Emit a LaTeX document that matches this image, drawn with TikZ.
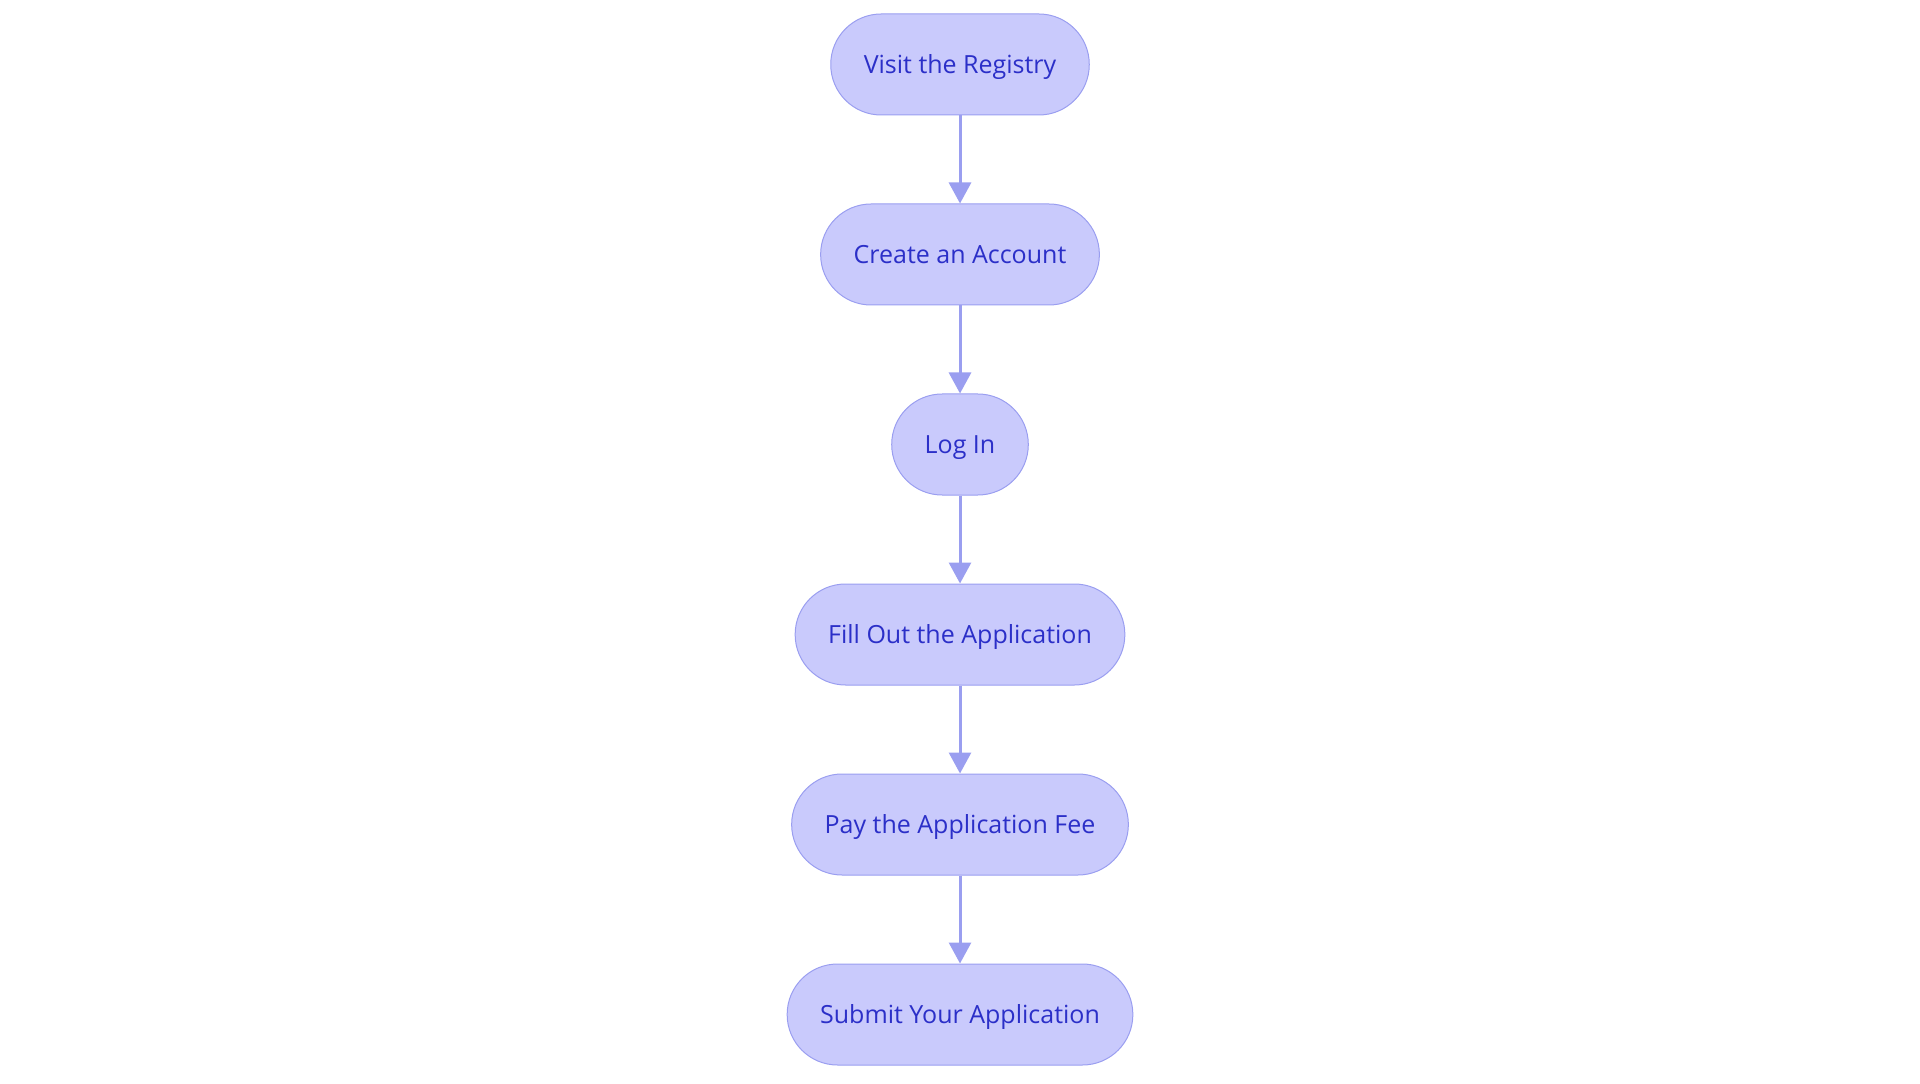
\documentclass[tikz,border=0pt]{standalone}
\usepackage{fontspec}
\setmainfont{Open Sans}
\usetikzlibrary{arrows.meta}
\usetikzlibrary{positioning}
\definecolor{stepfill}{HTML}{C9CAFC}
\definecolor{stepline}{HTML}{9A9EF0}
\definecolor{steptext}{HTML}{2B2FC8}
\begin{document}
\begin{tikzpicture}
		\tikzstyle{pill} = [rectangle, rounded corners=25.2pt, minimum height=50.5pt, inner xsep=16.5pt, text height=9pt, text depth=0pt, text centered, fill=stepfill, draw=stepline, line width=0.5pt, text=steptext, font=\fontsize{12.5pt}{15pt}\selectfont]
		\tikzstyle{arrow} = [line width=1.5pt, draw=stepline, -{Triangle[width=11pt,length=10.5pt]}]
		\useasboundingbox (0,0) rectangle (960pt,541.5pt);
		\node (visit) [pill] at (480pt,509.25pt) {Visit the Registry};
		\node (account) [pill, below=44pt of visit] {Create an Account};
		\node (login) [pill, below=44pt of account] {Log In};
		\node (fill) [pill, below=44pt of login] {Fill Out the Application};
		\node (fee) [pill, below=44pt of fill] {Pay the Application Fee};
		\node (submit) [pill, below=44pt of fee] {Submit Your Application};
		\draw [arrow] (visit) -- (account);
		\draw [arrow] (account) -- (login);
		\draw [arrow] (login) -- (fill);
		\draw [arrow] (fill) -- (fee);
		\draw [arrow] (fee) -- (submit);
	\end{tikzpicture}
\end{document}
